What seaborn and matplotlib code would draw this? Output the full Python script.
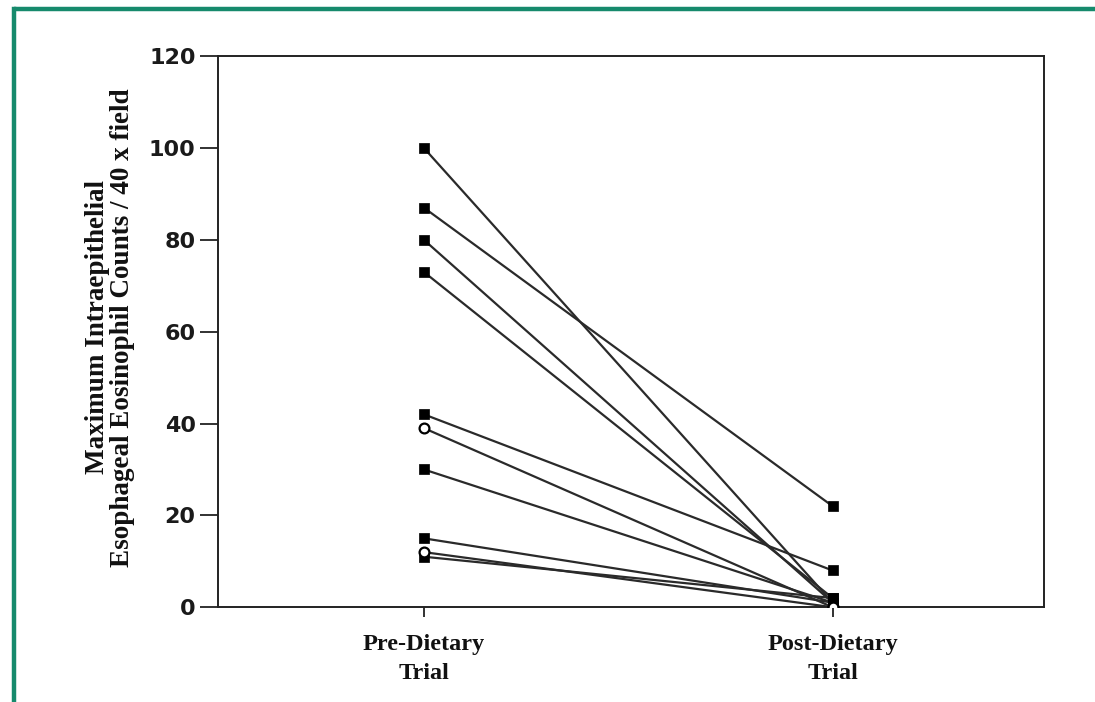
import numpy as np
import pandas as pd
import matplotlib
matplotlib.use("Agg")
import matplotlib.pyplot as plt
from matplotlib.lines import Line2D
import seaborn as sns

# Per-patient eosinophil counts before and after the dietary trial
subjects = ["P1", "P2", "P3", "P4", "P5", "P6", "P7", "P8", "P9", "P10"]
pre_counts = [100, 87, 80, 73, 42, 39, 30, 15, 12, 11]
post_counts = [1, 22, 1, 2, 8, 0, 1, 1, 0, 2]
marker_kind = ["filled", "filled", "filled", "filled", "filled",
               "open", "filled", "filled", "open", "filled"]

phase_labels = ["Pre-Dietary\nTrial", "Post-Dietary\nTrial"]
y_ticks = [0, 20, 40, 60, 80, 100, 120]

rows = []
for s, a, b, k in zip(subjects, pre_counts, post_counts, marker_kind):
    rows.append({"subject": s, "phase": 0, "count": a, "kind": k})
    rows.append({"subject": s, "phase": 1, "count": b, "kind": k})
df = pd.DataFrame(rows)

sns.set_style("white")
fig = plt.figure(figsize=(10.95, 7.02), dpi=100)
ax = fig.add_axes([0.199, 0.135, 0.754, 0.785])

sns.lineplot(data=df, x="phase", y="count", units="subject", estimator=None,
             color="#2a2a2a", linewidth=1.6, ax=ax, legend=False)

filled = df[df["kind"] == "filled"]
hollow = df[df["kind"] == "open"]
sns.scatterplot(data=filled, x="phase", y="count", marker="s", s=58,
                color="black", edgecolor="black", linewidth=0.5, ax=ax,
                legend=False, zorder=3)
sns.scatterplot(data=hollow, x="phase", y="count", marker="o", s=50,
                facecolor="white", edgecolor="black", linewidth=1.6, ax=ax,
                legend=False, zorder=4)

ax.set_xlim(-0.504, 1.516)
ax.set_ylim(0, 120)
ax.set_xticks([0, 1])
ax.set_xticklabels(phase_labels, fontfamily="Liberation Serif",
                   fontweight="bold", fontsize=17.5, linespacing=1.5)
ax.set_yticks(y_ticks)
ax.set_yticklabels([str(v) for v in y_ticks], fontfamily="DejaVu Sans",
                   fontweight="bold", fontsize=16)
ax.tick_params(axis="y", direction="out", length=13, width=1.3, pad=3,
               left=True, color="#222222", labelcolor="#1a1a1a")
ax.tick_params(axis="x", direction="out", length=7, width=1.3, pad=12,
               bottom=True, color="#222222", labelcolor="#111111")

for sp in ax.spines.values():
    sp.set_visible(True)
    sp.set_color("#222222")
    sp.set_linewidth(1.4)

ax.set_xlabel("")
ax.set_ylabel("Maximum Intraepithelial\nEsophageal Eosinophil Counts / 40 x field",
              fontfamily="Liberation Serif", fontweight="bold", fontsize=19.5,
              linespacing=1.0, color="#111111")
ax.yaxis.set_label_coords(-0.101, 0.508)

# Green frame along the top and left edges
frame_color = "#168a6c"
fig.add_artist(Line2D([14 / 1095, 1.0], [1 - 9 / 702, 1 - 9 / 702],
                      transform=fig.transFigure, color=frame_color,
                      linewidth=3.2, solid_capstyle="butt"))
fig.add_artist(Line2D([14 / 1095, 14 / 1095], [0.0, 1 - 9 / 702],
                      transform=fig.transFigure, color=frame_color,
                      linewidth=3.2, solid_capstyle="projecting"))

fig.savefig("out.png", dpi=100, facecolor="white")
